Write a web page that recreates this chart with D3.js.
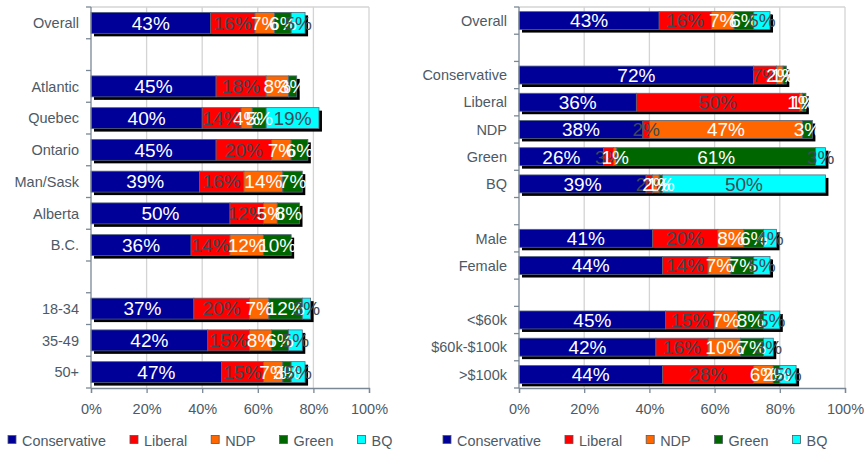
<!DOCTYPE html>
<html>
<head>
<meta charset="utf-8">
<script src="https://cdn.jsdelivr.net/npm/d3@7"></script>
<style>
body { margin: 0; background: #fff; }
svg { display: block; font-family: "Liberation Sans", Arial, sans-serif; }
</style>
</head>
<body>
<script>
// parties and colours
var parties = ["Conservative", "Liberal", "NDP", "Green", "BQ"];
var partyColors = ["#000099", "#ff0000", "#ff6600", "#006600", "#00ffff"];
var labelColors = ["#ffffff", "#3f4955", "#ffffff", "#ffffff", "#3f4955"];

// left panel: region and age (empty strings are spacer rows)
var leftCats = ["Overall", "", "Atlantic", "Quebec", "Ontario", "Man/Sask", "Alberta", "B.C.", "", "18-34", "35-49", "50+"];
var leftCons = [43, 0, 45, 40, 45, 39, 50, 36, 0, 37, 42, 47];
var leftLib = [16, 0, 18, 14, 20, 16, 12, 14, 0, 20, 15, 15];
var leftNdp = [7, 0, 8, 4, 7, 14, 5, 12, 0, 7, 8, 7];
var leftGreen = [6, 0, 3, 5, 6, 7, 8, 10, 0, 12, 6, 3];
var leftBq = [5, 0, 0, 19, 0, 0, 0, 0, 0, 3, 5, 5];

// right panel: past vote, gender, income
var rightCats = ["Overall", "", "Conservative", "Liberal", "NDP", "Green", "BQ", "", "Male", "Female", "", "<$60k", "$60k-$100k", ">$100k"];
var rightCons = [43, 0, 72, 36, 38, 26, 39, 0, 41, 44, 0, 45, 42, 44];
var rightLib = [16, 0, 7, 50, 2, 3, 2, 0, 20, 14, 0, 15, 16, 28];
var rightNdp = [7, 0, 2, 1, 47, 1, 2, 0, 8, 7, 0, 7, 10, 6];
var rightGreen = [6, 0, 1, 1, 3, 61, 1, 0, 6, 7, 0, 8, 7, 2];
var rightBq = [5, 0, 0, 0, 0, 3, 50, 0, 4, 5, 0, 5, 3, 5];

var xTicks = [0, 20, 40, 60, 80, 100];

var W = 864, H = 449;
var svg = d3.select("body").append("svg")
	.attr("width", W)
	.attr("height", H);

function buildRows(cats, series) {
	return cats.map(function (c, i) {
		var row = { idx: i, name: c };
		parties.forEach(function (p, k) { row[p] = series[k][i]; });
		return row;
	});
}

function panel(cats, series, left, right, top, bottom, legendX) {
	var rows = buildRows(cats, series);
	var x = d3.scaleLinear().domain([0, 100]).range([left, right]);
	var y = d3.scaleBand().domain(d3.range(cats.length)).range([top, bottom])
		.paddingInner(0.34).paddingOuter(0.17);
	var stacked = d3.stack().keys(parties)(rows);
	var g = svg.append("g");

	// grid + plot border
	g.selectAll(".grid").data(xTicks.slice(1)).enter().append("line")
		.attr("x1", function (d) { return x(d); })
		.attr("x2", function (d) { return x(d); })
		.attr("y1", top).attr("y2", bottom)
		.attr("stroke", "#d4d4d4").attr("stroke-width", 1.3);
	g.append("line").attr("x1", left).attr("x2", right).attr("y1", top).attr("y2", top)
		.attr("stroke", "#d4d4d4").attr("stroke-width", 1.3);

	// shadows behind each full bar
	var rowsWithData = rows.filter(function (r) { return r.name !== ""; });
	g.selectAll(".shadow").data(rowsWithData).enter().append("rect")
		.attr("x", x(0) + 3)
		.attr("y", function (d) { return y(d.idx) + 3; })
		.attr("width", function (d) { return x(d3.sum(parties, function (p) { return d[p]; })) - x(0); })
		.attr("height", y.bandwidth())
		.attr("fill", "#000");

	// segments
	stacked.forEach(function (layer, k) {
		var segs = layer.filter(function (s) { return s.data.name !== "" && s[1] > s[0]; });
		g.selectAll(".seg" + k).data(segs).enter().append("rect")
			.attr("x", function (s) { return x(s[0]); })
			.attr("y", function (s) { return y(s.data.idx); })
			.attr("width", function (s) { return x(s[1]) - x(s[0]); })
			.attr("height", y.bandwidth())
			.attr("fill", partyColors[k])
			.attr("stroke", "#56667a")
			.attr("stroke-width", 0.8);
	});

	// value labels
	stacked.forEach(function (layer, k) {
		var segs = layer.filter(function (s) { return s.data.name !== "" && s[1] > s[0]; });
		g.selectAll(".lab" + k).data(segs).enter().append("text")
			.attr("x", function (s) { return (x(s[0]) + x(s[1])) / 2; })
			.attr("y", function (s) { return y(s.data.idx) + y.bandwidth() / 2; })
			.attr("dy", "0.36em")
			.attr("text-anchor", "middle")
			.attr("font-size", 19)
			.attr("fill", labelColors[k])
			.text(function (s) { return (s[1] - s[0]) + "%"; });
	});

	// y axis with ticks between categories
	var step = (bottom - top) / cats.length;
	g.append("line").attr("x1", left).attr("x2", left).attr("y1", top).attr("y2", bottom)
		.attr("stroke", "#7a8794").attr("stroke-width", 1.3);
	g.selectAll(".ytick").data(d3.range(cats.length + 1)).enter().append("line")
		.attr("x1", left - 5).attr("x2", left)
		.attr("y1", function (i) { return top + i * step; })
		.attr("y2", function (i) { return top + i * step; })
		.attr("stroke", "#7a8794").attr("stroke-width", 1.3);
	g.selectAll(".ycat").data(rowsWithData).enter().append("text")
		.attr("x", left - 12)
		.attr("y", function (d) { return y(d.idx) + y.bandwidth() / 2; })
		.attr("dy", "0.36em")
		.attr("text-anchor", "end")
		.attr("font-size", 14.5)
		.attr("fill", "#4d5a66")
		.text(function (d) { return d.name; });

	// x axis
	var xAxis = g.append("g").attr("transform", "translate(0," + bottom + ")")
		.call(d3.axisBottom(x).tickValues(xTicks).tickSize(5).tickPadding(11)
			.tickFormat(function (d) { return d + "%"; }));
	xAxis.select(".domain").attr("stroke", "#7a8794").attr("stroke-width", 1.3);
	xAxis.selectAll(".tick line").attr("stroke", "#7a8794").attr("stroke-width", 1.3);
	xAxis.selectAll(".tick text").attr("font-size", 14.5).attr("fill", "#4d5a66")
		.attr("font-family", "Liberation Sans, Arial, sans-serif");

	// legend
	var lx = legendX;
	parties.forEach(function (p, k) {
		g.append("rect").attr("x", lx).attr("y", 435.5).attr("width", 8).attr("height", 8)
			.attr("fill", partyColors[k]).attr("stroke", "#4d5a66").attr("stroke-width", 0.8);
		var t = g.append("text").attr("x", lx + 14).attr("y", 445.5)
			.attr("font-size", 14.4).attr("fill", "#4d5a66").text(p);
		lx += 14 + t.node().getComputedTextLength() + 24;
	});
}

panel(leftCats, [leftCons, leftLib, leftNdp, leftGreen, leftBq], 91, 369, 7, 388, 8);
panel(rightCats, [rightCons, rightLib, rightNdp, rightGreen, rightBq], 519, 845, 7, 388, 443);
</script>
</body>
</html>
